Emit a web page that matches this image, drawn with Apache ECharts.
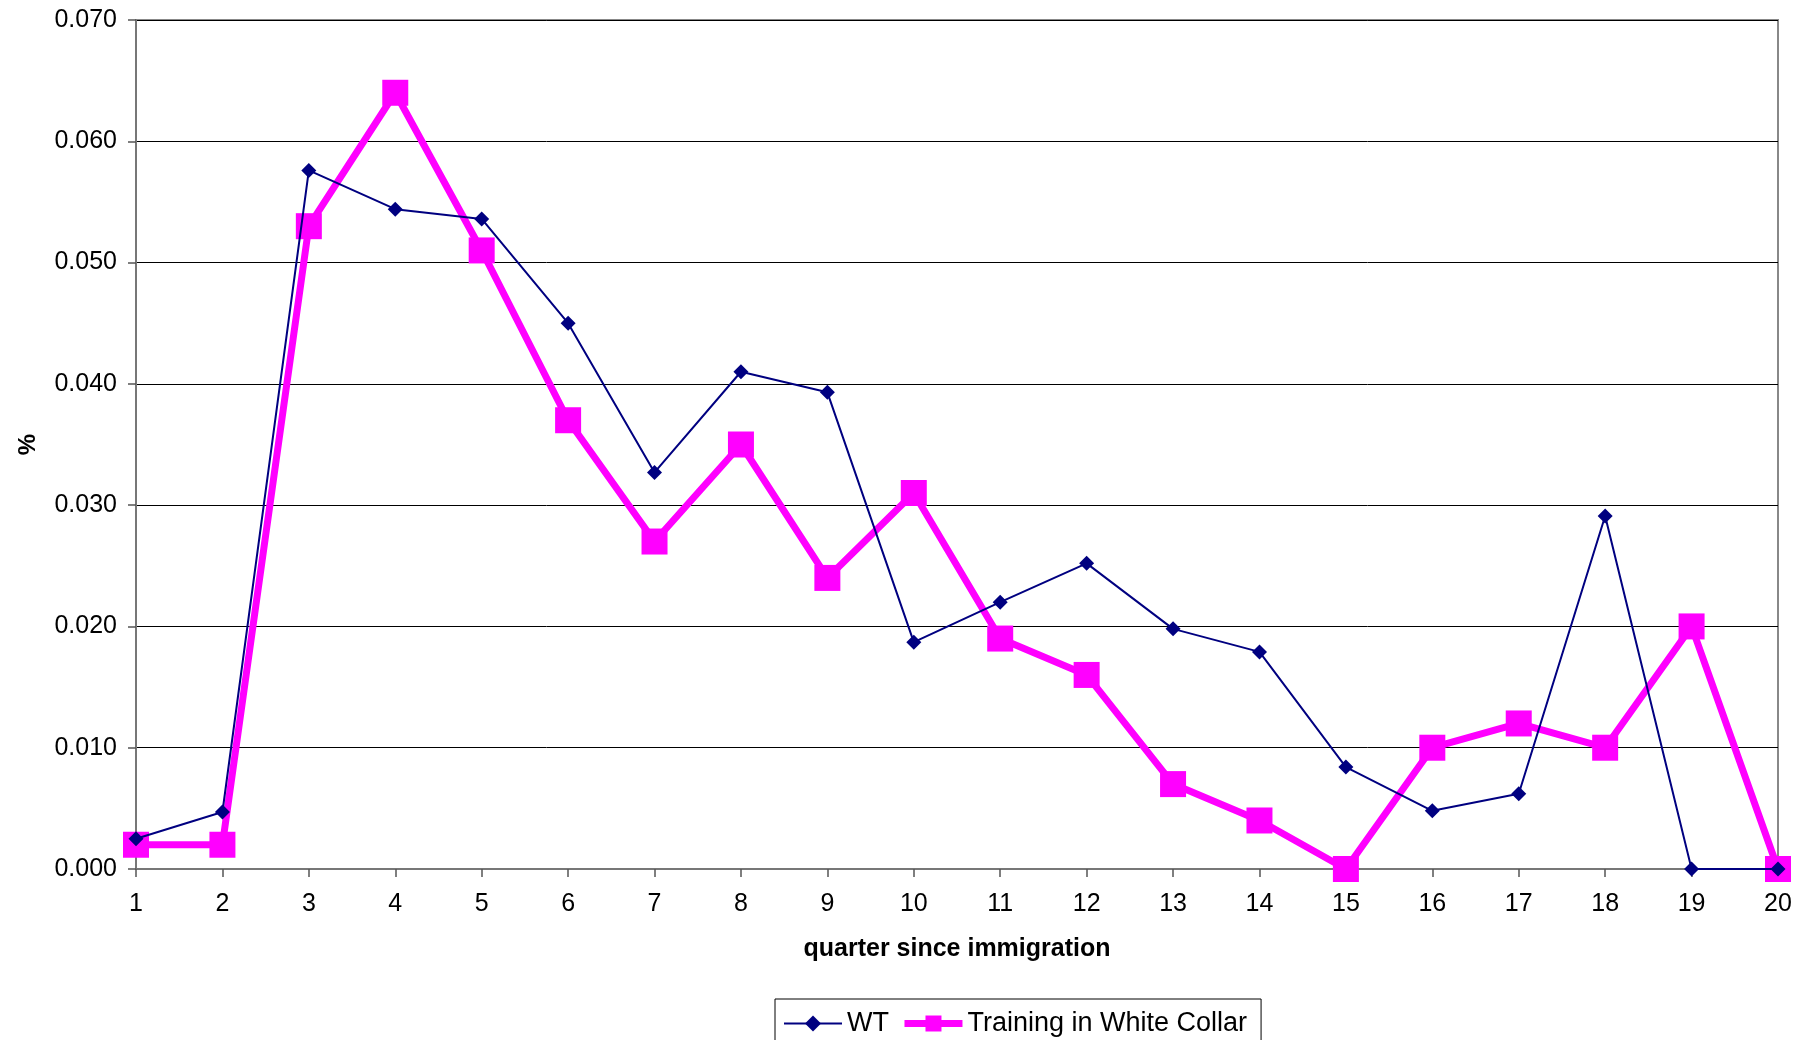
<!DOCTYPE html>
<html>
<head>
<meta charset="utf-8">
<script src="https://cdn.jsdelivr.net/npm/echarts@6/dist/echarts.min.js"></script>
<style>
html,body{margin:0;padding:0;background:#fff;}
#chart{width:1818px;height:1040px;}
</style>
</head>
<body>
<div id="chart"></div>
<script>
const categories = ['1','2','3','4','5','6','7','8','9','10','11','12','13','14','15','16','17','18','19','20'];
const wtValues = [0.0025,0.0047,0.0576,0.0544,0.0536,0.0450,0.0327,0.0410,0.0393,0.0187,0.0220,0.0252,0.0198,0.0179,0.0084,0.0048,0.0062,0.0291,0.0000,0.0000];
const trainingValues = [0.002,0.002,0.053,0.064,0.051,0.037,0.027,0.035,0.024,0.031,0.019,0.016,0.007,0.004,0.000,0.010,0.012,0.010,0.020,0.000];
const seriesNames = ['WT','Training in White Collar'];

const FONT = 'Liberation Sans, Arial, sans-serif';
const chart = echarts.init(document.getElementById('chart'), null, {renderer:'canvas'});
chart.setOption({
  animation:false,
  backgroundColor:'#fff',
  textStyle:{fontFamily:FONT},
  grid:{left:136,top:20,right:40,bottom:171,show:true,borderColor:'#888',borderWidth:2,backgroundColor:'transparent'},
  legend:{
    left:775, top:999,
    orient:'horizontal',
    data:[
      {name:seriesNames[0], lineStyle:{width:2,color:'#000080'}, itemStyle:{color:'#000080'}},
      {name:seriesNames[1], lineStyle:{width:7,color:'#FF00FF'}, itemStyle:{color:'#FF00FF'}}
    ],
    itemWidth:58, itemHeight:20, itemGap:12,
    padding:[11,14,30,8],
    borderColor:'#000', borderWidth:1,
    textStyle:{fontSize:27,color:'#000',fontFamily:FONT}
  },
  xAxis:{
    type:'category', data:categories, boundaryGap:false,
    name:'quarter since immigration', nameLocation:'middle', nameGap:68,
    nameTextStyle:{fontSize:25,fontWeight:'bold',color:'#000',fontFamily:FONT},
    axisLine:{lineStyle:{color:'#777',width:2}},
    axisTick:{show:true,length:8,lineStyle:{color:'#555',width:1.5},alignWithLabel:true},
    axisLabel:{fontSize:25,color:'#000',margin:23,fontFamily:FONT},
    splitLine:{show:false}
  },
  yAxis:{
    type:'value', min:0, max:0.07, interval:0.01,
    name:'%', nameLocation:'middle', nameGap:96, nameRotate:90,
    nameTextStyle:{fontSize:24,fontWeight:'bold',color:'#000',fontFamily:FONT},
    axisLine:{show:true,lineStyle:{color:'#777',width:2}},
    axisTick:{show:true,length:8,lineStyle:{color:'#555',width:1.5}},
    axisLabel:{fontSize:25,color:'#000',margin:19,fontFamily:FONT,formatter:v=>v.toFixed(3)},
    splitLine:{show:true,lineStyle:{color:'#000',width:1}}
  },
  series:[
    {
      name:seriesNames[1], type:'line', data:trainingValues, z:3,
      symbol:'rect', symbolSize:26,
      lineStyle:{color:'#FF00FF',width:7},
      itemStyle:{color:'#FF00FF'}
    },
    {
      name:seriesNames[0], type:'line', data:wtValues, z:4,
      symbol:'diamond', symbolSize:15,
      lineStyle:{color:'#000080',width:2},
      itemStyle:{color:'#000080'}
    }
  ]
});
</script>
</body>
</html>
